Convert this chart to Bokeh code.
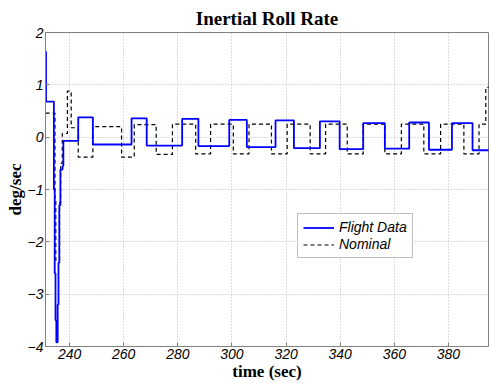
from bokeh.plotting import figure
from bokeh.models import Range1d, FixedTicker, Legend, LegendItem
from bokeh.embed import file_html
from bokeh.resources import INLINE

# Flight data: switch times (sec) and level held from that time (deg/sec)
flight_t = [231.15, 231.3, 234.2, 234.5, 234.8, 235.1, 235.6, 235.9, 236.2, 236.6, 237.4, 237.7,
            243.2, 248.6, 262.9, 268.5, 281.6, 287.6, 299.0, 305.5, 316.1, 322.9,
            332.5, 339.8, 348.5, 356.5, 365.5, 372.8, 381.3, 388.9, 395.0]
flight_v = [1.63, 0.68, -1.0, -2.6, -3.5, -3.92, -3.2, -2.4, -1.3, -0.62, -0.55, -0.07,
            0.38, -0.14, 0.36, -0.16, 0.35, -0.17, 0.33, -0.19, 0.32, -0.21,
            0.30, -0.23, 0.27, -0.22, 0.28, -0.24, 0.27, -0.25, -0.25]

# Nominal: switch times (sec) and level held from that time (deg/sec)
nominal_t = [231.15, 234.6, 234.9, 236.3, 236.7, 237.3, 239.2, 240.6, 243.2, 248.6,
             259.2, 263.9, 272.0, 278.0, 286.6, 292.1, 300.5, 306.3, 314.6, 320.4,
             328.9, 334.6, 342.6, 348.5, 356.5, 362.6, 370.9, 377.1, 385.7, 391.3,
             393.8, 395.0]
nominal_v = [0.46, -1.2, -2.35, -1.25, -0.5, 0.07, 0.88, 0.18, -0.38, 0.2,
             -0.38, 0.24, -0.33, 0.25, -0.32, 0.25, -0.32, 0.25, -0.32, 0.25,
             -0.32, 0.25, -0.32, 0.25, -0.32, 0.25, -0.32, 0.25, -0.32, 0.25,
             0.95, 0.95]

x_ticks = [240, 260, 280, 300, 320, 340, 360, 380]
y_ticks = [-4, -3, -2, -1, 0, 1, 2]


def step_path(t, v):
    xs, ys = [], []
    for i in range(len(t) - 1):
        xs += [t[i], t[i + 1]]
        ys += [v[i], v[i]]
    return xs, ys


p = figure(width=489, height=383, output_backend="svg", toolbar_location=None,
           x_range=Range1d(231.1, 394.8), y_range=Range1d(-4, 2),
           min_border_left=45, min_border_right=1, min_border_top=32, min_border_bottom=36,
           background_fill_color="white", border_fill_color="white")

p.title.text = "Inertial Roll Rate"
p.title.align = "center"
p.title.text_font = "Liberation Serif"
p.title.text_font_size = "19px"
p.title.text_font_style = "bold"
p.title.text_color = "black"
p.title.standoff = 8

for ax in (p.xaxis, p.yaxis):
    ax.major_label_text_font = "Liberation Sans"
    ax.major_label_text_font_size = "14px"
    ax.major_label_text_font_style = "italic"
    ax.major_label_text_color = "black"
    ax.axis_label_text_font = "Liberation Serif"
    ax.axis_label_text_font_size = "17px"
    ax.axis_label_text_font_style = "bold"
    ax.axis_label_text_color = "black"
    ax.axis_line_color = "#808080"
    ax.major_tick_line_color = "#808080"
    ax.major_tick_in = 4
    ax.major_tick_out = 0
    ax.minor_tick_line_color = None
    ax.major_label_standoff = 2
    ax.axis_label_standoff = 0

p.xaxis.ticker = FixedTicker(ticks=x_ticks)
p.yaxis.ticker = FixedTicker(ticks=y_ticks)
p.xaxis.axis_label = "time (sec)"
p.yaxis.axis_label = "deg/sec"

p.grid.grid_line_color = "#b8b8b8"
p.grid.grid_line_dash = "1 2"
p.xgrid.ticker = FixedTicker(ticks=x_ticks)
p.ygrid.ticker = FixedTicker(ticks=y_ticks)
p.outline_line_color = "#808080"

fx, fy = step_path(flight_t, flight_v)
nx, ny = step_path(nominal_t, nominal_v)

r_nom = p.line(nx, ny, line_color="black", line_width=1.2, line_dash="4 3")
r_fl = p.line(fx, fy, line_color="#0000ff", line_width=1.8)

legend = Legend(items=[LegendItem(label="Flight Data", renderers=[r_fl]),
                       LegendItem(label="Nominal", renderers=[r_nom])],
                location=(252, 88))
legend.label_text_font = "Liberation Sans"
legend.label_text_font_size = "14px"
legend.label_text_font_style = "italic"
legend.label_text_color = "black"
legend.border_line_color = "#808080"
legend.background_fill_alpha = 1
legend.padding = 5
legend.spacing = 1
legend.margin = 0
legend.glyph_width = 31
legend.glyph_height = 15
legend.label_height = 15
legend.label_standoff = 5
p.add_layout(legend)

open("out.html", "w").write(file_html(p, INLINE))
